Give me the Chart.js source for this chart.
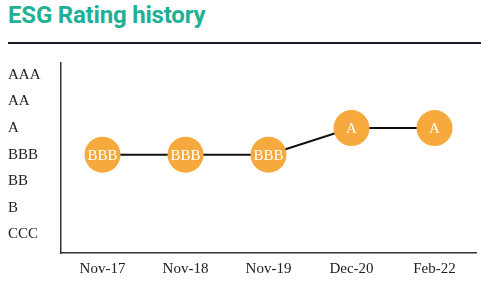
<!DOCTYPE html>
<html>
<head>
<meta charset="utf-8">
<script src="https://cdn.jsdelivr.net/npm/chart.js@4"></script>
<style>
  html, body { margin: 0; padding: 0; background: #fff; }
  #wrap { position: relative; width: 494px; height: 283px; }
  #title {
    position: absolute; left: 8px; top: 1px; margin: 0;
    font: bold 24px Roboto, sans-serif; color: #21b096; letter-spacing: -0.2px;
  }
  #rule { position: absolute; left: 8px; top: 42px; width: 473px; height: 2px; background: #1c1c2c; }
  #chart { position: absolute; left: 0; top: 0; }
</style>
</head>
<body>
<div id="wrap">
  <h1 id="title">ESG Rating history</h1>
  <div id="rule"></div>
  <canvas id="chart" width="494" height="283"></canvas>
</div>
<script>
// rating scale, lowest first
const ratingScale = ['CCC', 'B', 'BB', 'BBB', 'A', 'AA', 'AAA'];
const dates = ['Nov-17', 'Nov-18', 'Nov-19', 'Dec-20', 'Feb-22'];
const ratings = ['BBB', 'BBB', 'BBB', 'A', 'A'];

const ratingValues = ratings.map(r => ratingScale.indexOf(r) + 1);

// writes the rating inside each circle
const pointLabels = {
  id: 'pointLabels',
  afterDatasetsDraw(chart) {
    const ctx = chart.ctx;
    const meta = chart.getDatasetMeta(0);
    ctx.save();
    ctx.fillStyle = '#ffffff';
    ctx.font = '15px "Liberation Serif", serif';
    ctx.textAlign = 'center';
    ctx.textBaseline = 'middle';
    meta.data.forEach((pt, i) => {
      ctx.fillText(ratings[i], pt.x, pt.y + 1);
    });
    ctx.restore();
  }
};

const serif = { family: '"Liberation Serif", serif', size: 15 };

new Chart(document.getElementById('chart'), {
  type: 'line',
  data: {
    labels: dates,
    datasets: [{
      data: ratingValues,
      borderColor: '#111111',
      borderWidth: 2,
      pointRadius: 18,
      pointHoverRadius: 18,
      pointBackgroundColor: '#f6aa3d',
      pointBorderWidth: 0,
      tension: 0
    }]
  },
  options: {
    responsive: false,
    animation: false,
    layout: { padding: { left: 8, top: 63, right: 13, bottom: 0 } },
    scales: {
      x: {
        offset: true,
        grid: { display: false, drawTicks: false },
        border: { display: true, color: '#333', width: 1.5 },
        ticks: { color: '#222', font: serif, padding: 7, maxRotation: 0 },
        afterFit(scale) {
          scale.height = 30;
          scale.paddingLeft = 0;
          scale.paddingRight = 0;
        }
      },
      y: {
        min: 0.3,
        max: 7.45,
        afterBuildTicks(scale) {
          scale.ticks = ratingScale.map((r, i) => ({ value: i + 1 }));
        },
        afterFit(scale) { scale.width = 53; },
        grid: { display: false },
        border: { display: true, color: '#333', width: 1.5 },
        ticks: {
          color: '#222',
          font: serif,
          crossAlign: 'far',
          callback: v => ratingScale[v - 1]
        }
      }
    },
    plugins: {
      legend: { display: false },
      tooltip: { enabled: false }
    }
  },
  plugins: [pointLabels]
});
</script>
</body>
</html>
